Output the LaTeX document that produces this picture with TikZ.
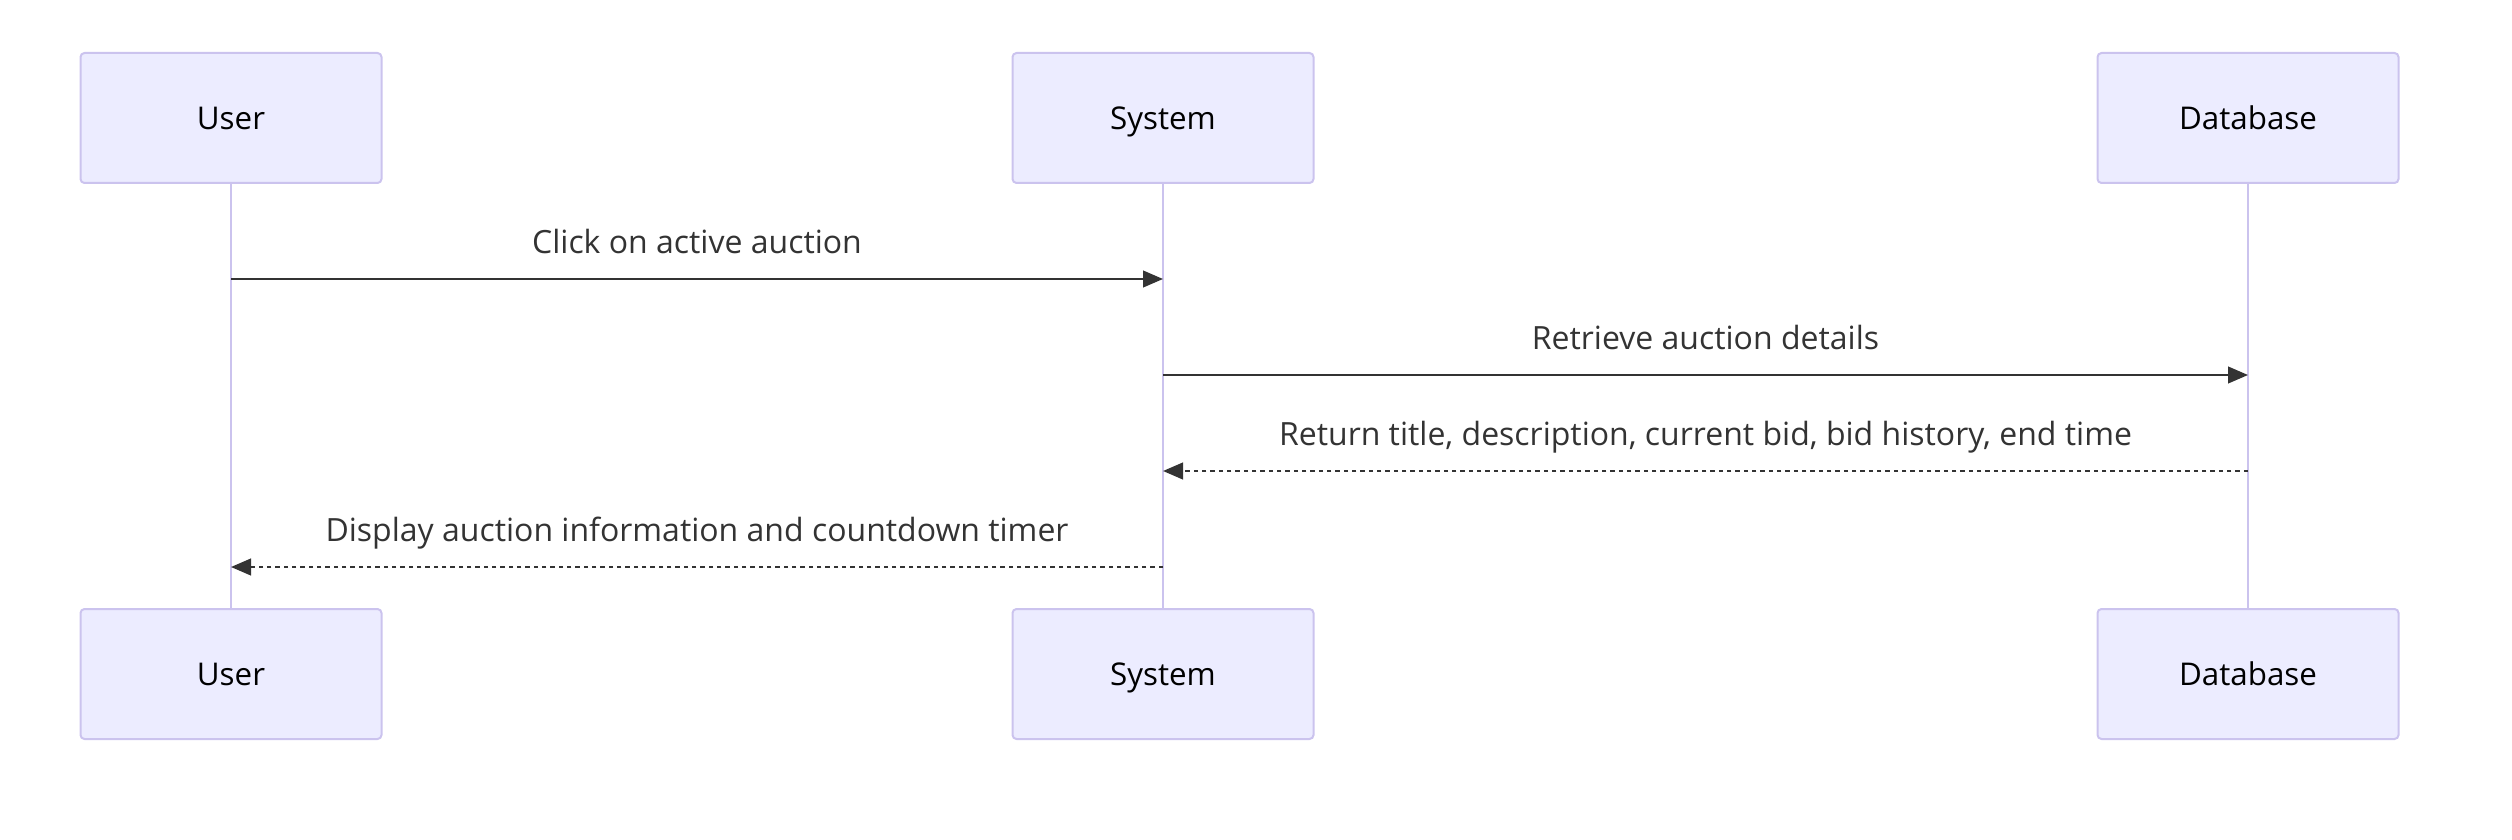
\documentclass[tikz,border=0pt]{standalone}
\usepackage{fontspec}
\setmainfont{Open Sans}
\usetikzlibrary{arrows.meta}
\definecolor{actfill}{HTML}{ECECFF}
\definecolor{actline}{HTML}{CBC3EE}
\definecolor{msgcol}{HTML}{333333}

\begin{document}
\begin{tikzpicture}[x=0.3pt, y=-0.3pt,
  actor/.style={draw=actline, fill=actfill, line width=0.6pt, rounded corners=1.2pt,
    minimum width=90.3pt, minimum height=39pt, inner sep=0pt,
    text height=8pt, text depth=1pt, font=\fontsize{9.4}{11}\selectfont},
  lifeline/.style={draw=actline, line width=0.8pt},
  msg/.style={draw=msgcol, line width=0.65pt, -{Triangle[length=6pt, width=5pt]}},
  reply/.style={msg, dash pattern=on 1.3pt off 1.2pt},
  lbl/.style={text=msgcol, font=\fontsize{9.6}{11}\selectfont, inner sep=0pt,
    text height=7.2pt, text depth=2pt, yshift=10.4pt}]
  \useasboundingbox (0,0) rectangle (2512,840);
  % actors, top and bottom, with their lifelines
  \foreach \n/\t/\x in {user/User/231, sys/System/1163, db/Database/2248} {
    \draw[lifeline] (\x,183) -- (\x,609);
    \node[actor] (\n Top) at (\x,118) {\t};
    \node[actor] (\n Bot) at (\x,674) {\t};
  }
  % message end points
  \coordinate (m1a) at (userTop |- 0,279);
  \coordinate (m1b) at (sysTop |- 0,279);
  \coordinate (m2a) at (sysTop |- 0,375);
  \coordinate (m2b) at (dbTop |- 0,375);
  \coordinate (m3a) at (dbTop |- 0,471);
  \coordinate (m3b) at (sysTop |- 0,471);
  \coordinate (m4a) at (sysTop |- 0,567);
  \coordinate (m4b) at (userTop |- 0,567);
  % messages
  \draw[msg] (m1a) -- node[lbl, midway] {Click on active auction} (m1b);
  \draw[msg] (m2a) -- node[lbl, midway] {Retrieve auction details} (m2b);
  \draw[reply] (m3a) -- node[lbl, midway] {Return title, description, current bid, bid history, end time} (m3b);
  \draw[reply] (m4a) -- node[lbl, midway] {Display auction information and countdown timer} (m4b);
\end{tikzpicture}
\end{document}
